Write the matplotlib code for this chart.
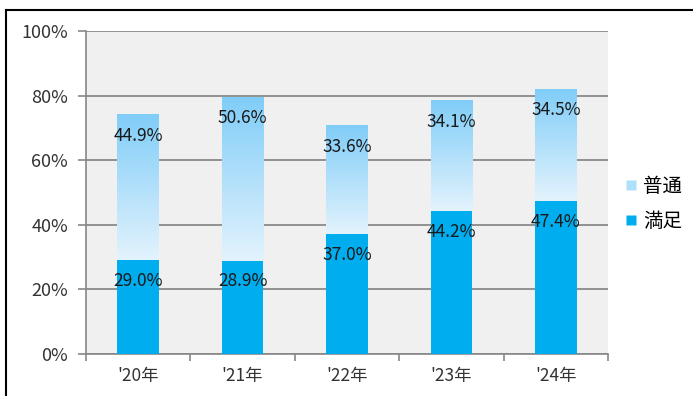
import numpy as np
import matplotlib
matplotlib.use("Agg")
import matplotlib.pyplot as plt
from matplotlib.lines import Line2D
from matplotlib.colors import LinearSegmentedColormap

plt.rcParams["font.family"] = ["Noto Sans CJK JP", "DejaVu Sans"]

years = ["'20年", "'21年", "'22年", "'23年", "'24年"]
manzoku = [29.0, 28.9, 37.0, 44.2, 47.4]
futsuu = [44.9, 50.6, 33.6, 34.1, 34.5]

SOLID = "#00adef"
GRAD_TOP = "#80cdf8"
GRAD_BOTTOM = "#e3f3fd"
BG = "#f0f0f0"

fig = plt.figure(figsize=(6.93, 3.96), dpi=100)
ax = fig.add_axes([86 / 693, 1 - 354 / 396, (608 - 86) / 693, (354 - 31) / 396])
ax.set_facecolor(BG)

x = np.arange(len(years))
width = 0.4

bottom_bars = ax.bar(x, manzoku, width, color=SOLID, zorder=3, label="満足")
top_bars = ax.bar(x, futsuu, width, bottom=manzoku, color="none", zorder=3, label="普通")

cmap = LinearSegmentedColormap.from_list("grad", [GRAD_BOTTOM, GRAD_TOP])
grad = np.linspace(0, 1, 256).reshape(-1, 1)
for p in top_bars:
    x0, y0 = p.get_x(), p.get_y()
    ax.imshow(grad, extent=[x0, x0 + p.get_width(), y0, y0 + p.get_height()],
              origin="lower", aspect="auto", cmap=cmap, zorder=3)

for p, v in zip(bottom_bars, manzoku):
    ax.text(p.get_x() + p.get_width() / 2, p.get_y() + p.get_height() - 6.4,
            f"{v:.1f}%", ha="center", va="center", fontsize=12.5, color="#1a1a1a", zorder=5)
for p, v in zip(top_bars, futsuu):
    ax.text(p.get_x() + p.get_width() / 2, p.get_y() + p.get_height() - 6.4,
            f"{v:.1f}%", ha="center", va="center", fontsize=12.5, color="#1a1a1a", zorder=5)

ax.set_xlim(-0.5, len(years) - 0.5)
ax.set_ylim(0, 100)
ax.set_yticks(range(0, 101, 20))
ax.set_yticklabels([f"{t}%" for t in range(0, 101, 20)], fontsize=13, color="#333333")
ax.set_xticks(x)
ax.set_xticklabels(years, fontsize=12.5, color="#333333")
ax.set_xticks(np.arange(-0.5, len(years), 1), minor=True)
ax.tick_params(axis="x", which="major", length=0, pad=9)
ax.tick_params(axis="x", which="minor", length=5, color="#888888", width=1.2)
ax.tick_params(axis="y", length=6, color="#888888", width=1.2, pad=7)

ax.grid(axis="y", color="#8a8a8a", linewidth=1.3, zorder=1)
ax.set_axisbelow(True)
for s in ["top", "right"]:
    ax.spines[s].set_visible(False)
for s in ["left", "bottom"]:
    ax.spines[s].set_color("#888888")
    ax.spines[s].set_linewidth(1.2)

handles = [
    plt.Line2D([], [], marker="s", linestyle="none", markersize=7,
               markerfacecolor="#aee0fb", markeredgecolor="none"),
    plt.Line2D([], [], marker="s", linestyle="none", markersize=7,
               markerfacecolor=SOLID, markeredgecolor="none"),
]
fig.legend(handles, ["普通", "満足"], loc="center left",
           bbox_to_anchor=(604 / 693, 1 - 204 / 396), frameon=False,
           fontsize=14, handletextpad=0.1, labelspacing=0.75, handlelength=1.0)

# outer frame (only left and top edges fall inside the image)
fig.add_artist(Line2D([6 / 693, 6 / 693], [0, 1 - 10 / 396], color="black", linewidth=1.5))
fig.add_artist(Line2D([6 / 693, 1], [1 - 10 / 396, 1 - 10 / 396], color="black", linewidth=1.5))

fig.savefig("out.png", dpi=100)
